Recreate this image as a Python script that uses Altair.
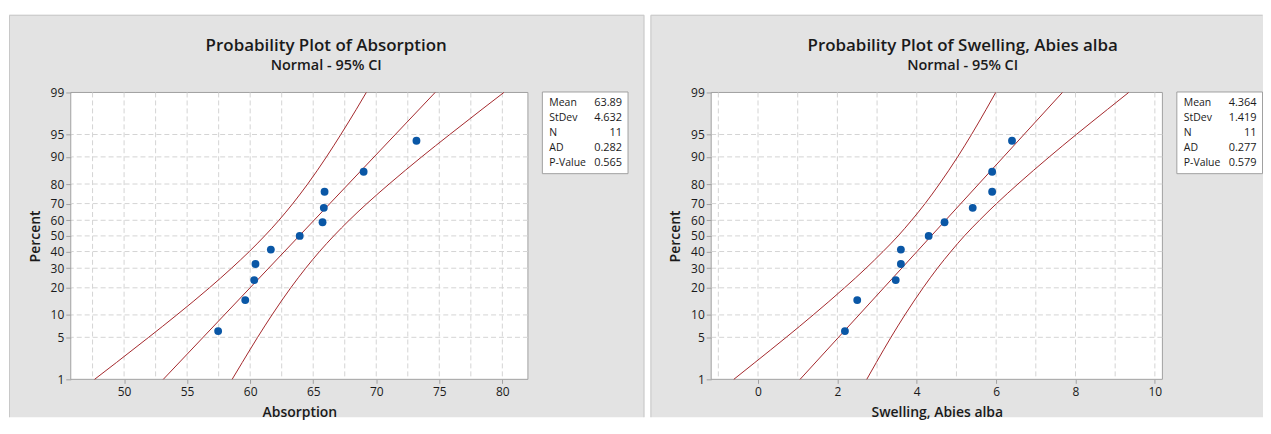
import altair as alt
import pandas as pd
from statistics import NormalDist

# ---------------- data ----------------
rank_pct = [6.14, 14.91, 23.68, 32.46, 41.23, 50.0, 58.77, 67.54, 76.32, 85.09, 93.86]
absorption = [57.46, 59.61, 60.32, 60.42, 61.64, 63.93, 65.74, 65.84, 65.90, 69.00, 73.19]
swelling = [2.19, 2.50, 3.47, 3.60, 3.60, 4.30, 4.70, 5.41, 5.90, 5.90, 6.40]

band_pct = [1, 2, 5, 10, 20, 30, 40, 50, 60, 70, 80, 90, 95, 98, 99]
abs_lower = [47.66, 49.39, 51.95, 54.18, 56.77, 58.52, 59.93, 61.15, 62.28, 63.38, 64.56, 66.05, 67.19, 68.42, 69.21]
abs_upper = [58.57, 59.37, 60.59, 61.73, 63.22, 64.40, 65.50, 66.63, 67.85, 69.26, 71.02, 73.60, 75.83, 78.39, 80.12]
sw_lower = [-0.61, -0.08, 0.71, 1.39, 2.18, 2.72, 3.15, 3.53, 3.87, 4.21, 4.57, 5.03, 5.38, 5.75, 5.99]
sw_upper = [2.74, 2.98, 3.35, 3.70, 4.16, 4.52, 4.86, 5.20, 5.58, 6.01, 6.55, 7.34, 8.02, 8.81, 9.34]
fit_pct = [1, 99]
abs_fit = [53.11, 74.67]
sw_fit = [1.06, 7.67]

stat_names = ["Mean", "StDev", "N", "AD", "P-Value"]
abs_stats = ["63.89", "4.632", "11", "0.282", "0.565"]
sw_stats = ["4.364", "1.419", "11", "0.277", "0.579"]

titles = ["Probability Plot of Absorption", "Probability Plot of Swelling, Abies alba"]
subtitle = "Normal - 95% CI"
x_titles = ["Absorption", "Swelling, Abies alba"]

pct_ticks = [1, 5, 10, 20, 30, 40, 50, 60, 70, 80, 90, 95, 99]
pct_grid = [5, 10, 20, 30, 40, 50, 60, 70, 80, 90, 95]
abs_ticks = [50, 55, 60, 65, 70, 75, 80]
abs_grid = [47.5, 50, 52.5, 55, 57.5, 60, 62.5, 65, 67.5, 70, 72.5, 75, 77.5, 80]
abs_domain = [45.77, 82.03]
sw_ticks = [0, 2, 4, 6, 8, 10]
sw_grid = [-1, 0, 1, 2, 3, 4, 5, 6, 7, 8, 9, 10]
sw_domain = [-1.18, 10.19]

# ---------------- style ----------------
FONT = "Open Sans"
BG = "#e3e3e3"
BORDER = "#c8c8c8"
FRAME = "#a0a0a0"
GRID = "#d4d4d4"
BLUE = "#0a57a6"
RED = "#a3272b"
TXT = "#1a1a1a"
H = 288
TOP = -78      # grey panel top, relative to plot top
BOTTOM = 326   # grey panel bottom, relative to plot top

nd = NormalDist()
z_ticks = [nd.inv_cdf(p / 100) for p in pct_ticks]
z_dom = [nd.inv_cdf(pct_ticks[0] / 100), nd.inv_cdf(pct_ticks[-1] / 100)]
ZCALC = "quantileNormal(datum.pct / 100)"

one = pd.DataFrame({"k": [0]})


def deco_rect(x, x2, y, y2, fill, stroke=None):
    kw = dict(fill=fill, strokeWidth=0)
    if stroke:
        kw = dict(fill=fill, stroke=stroke, strokeWidth=1)
    return alt.Chart(one).mark_rect(**kw).encode(
        x=alt.value(x), x2=alt.value(x2), y=alt.value(y), y2=alt.value(y2))


def deco_rule(x, x2, y, y2, color):
    return alt.Chart(one).mark_rule(color=color, strokeWidth=1).encode(
        x=alt.value(x), x2=alt.value(x2), y=alt.value(y), y2=alt.value(y2))


def panel(W, xs, lower, upper, fit, stats, xdomain, xticks, xgrid, title, xtitle,
          tx, left, right, right_border):
    xaxis = alt.Axis(values=xticks, title=xtitle, grid=False, domain=False, zindex=1,
                     tickSize=4, tickColor=FRAME, labelPadding=3, labelFontSize=12,
                     labelFont=FONT, labelColor=TXT, titleFont=FONT, titleFontSize=14,
                     titleFontWeight=600, titleColor=TXT, titlePadding=8, labelFlush=False)
    yaxis = alt.Axis(values=z_ticks, zindex=1,
                     labelExpr="format(round(cumulativeNormal(datum.value) * 100), 'd')",
                     title="Percent", grid=False, domain=False, tickSize=5, tickColor=FRAME,
                     labelPadding=2, labelFontSize=12, labelFont=FONT, labelColor=TXT,
                     titleFont=FONT, titleFontSize=14, titleFontWeight=600, titleColor=TXT,
                     titlePadding=8, labelFlush=False)
    X = alt.X("x:Q", scale=alt.Scale(domain=xdomain, nice=False, zero=False), axis=xaxis)
    Y = alt.Y("z:Q", scale=alt.Scale(domain=z_dom, nice=False, zero=False), axis=yaxis)

    layers = []
    # grey panel, its border, and the white plot area
    layers.append(deco_rect(left, right, TOP, BOTTOM, BG))
    layers.append(deco_rule(left + 0.5, left + 0.5, TOP + 0.5, BOTTOM, BORDER))
    layers.append(deco_rule(left + 0.5, right - 0.5, TOP + 0.5, TOP + 0.5, BORDER))
    if right_border:
        layers.append(deco_rule(right - 0.5, right - 0.5, TOP + 0.5, BOTTOM, BORDER))
    layers.append(deco_rect(0, W, 0, H, "white", FRAME))

    # grid
    layers.append(alt.Chart(pd.DataFrame({"pct": pct_grid})).transform_calculate(z=ZCALC)
                  .mark_rule(color=GRID, strokeDash=[5, 3], strokeWidth=1).encode(y=Y))
    layers.append(alt.Chart(pd.DataFrame({"x": xgrid}))
                  .mark_rule(color=GRID, strokeDash=[5, 3], strokeWidth=1).encode(x=X))

    # fitted line and CI bands
    rows = []
    for p, lo, up in zip(band_pct, lower, upper):
        rows.append({"series": "lower", "pct": p, "x": lo})
        rows.append({"series": "upper", "pct": p, "x": up})
    for p, f in zip(fit_pct, fit):
        rows.append({"series": "fit", "pct": p, "x": f})
    layers.append(alt.Chart(pd.DataFrame(rows)).transform_calculate(z=ZCALC)
                  .mark_line(color=RED, strokeWidth=1, interpolate="monotone")
                  .encode(x=X, y=Y, detail="series:N", order="pct:Q"))

    # points
    layers.append(alt.Chart(pd.DataFrame({"x": xs, "pct": rank_pct})).transform_calculate(z=ZCALC)
                  .mark_circle(size=62, color=BLUE, opacity=1).encode(x=X, y=Y))

    # stats box
    layers.append(deco_rect(W + 14.5, W + 100.5, -0.5, 81.5, "white", FRAME))
    sdf = pd.DataFrame({"name": stat_names, "val": stats, "i": list(range(len(stat_names)))})
    base = alt.Chart(sdf).transform_calculate(py="10.5 + datum.i * 15")
    layers.append(base.mark_text(align="left", baseline="middle", font=FONT, fontSize=10.5,
                                 color=TXT)
                  .encode(x=alt.value(W + 21.5), y=alt.Y("py:Q", scale=None), text="name:N"))
    layers.append(base.mark_text(align="right", baseline="middle", font=FONT, fontSize=11,
                                 color=TXT)
                  .encode(x=alt.value(W + 94.5), y=alt.Y("py:Q", scale=None), text="val:N"))

    # titles
    tdf = pd.DataFrame({"t": [title], "s": [subtitle]})
    layers.append(alt.Chart(tdf).mark_text(align="center", baseline="alphabetic", font=FONT,
                                           fontSize=17, fontWeight=600, color=TXT)
                  .encode(x=alt.value(tx), y=alt.value(-41.5), text="t:N"))
    layers.append(alt.Chart(tdf).mark_text(align="center", baseline="alphabetic", font=FONT,
                                           fontSize=14.5, fontWeight=600, color=TXT)
                  .encode(x=alt.value(tx), y=alt.value(-22.5), text="s:N"))

    return alt.layer(*layers).properties(width=W, height=H)


W1, W2 = 459, 453
p1 = panel(W1, absorption, abs_lower, abs_upper, abs_fit, abs_stats, abs_domain, abs_ticks,
           abs_grid, titles[0], x_titles[0], W1 / 2 + 27, -62, 576, True)
p2 = panel(W2, swelling, sw_lower, sw_upper, sw_fit, sw_stats, sw_domain, sw_ticks,
           sw_grid, titles[1], x_titles[1], W2 / 2 + 26, -61, 554, False)

chart = (alt.hconcat(p1, p2, spacing=6)
         .properties(padding={"left": 1, "top": 6, "right": 0, "bottom": 0})
         .configure(background="white")
         .configure_view(fill="white", stroke=None))

chart.save("out.html", embed_options={"renderer": "svg", "actions": False})
